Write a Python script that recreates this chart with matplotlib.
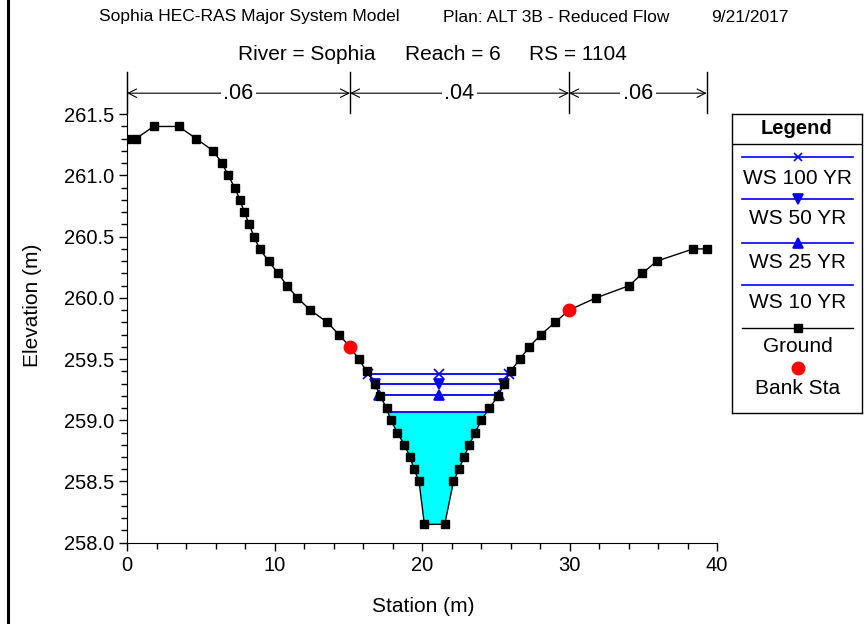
import numpy as np
import matplotlib
matplotlib.use('Agg')
from matplotlib import pyplot as plt
from matplotlib.lines import Line2D
from matplotlib.ticker import MultipleLocator

plt.rcParams['font.family'] = ['Liberation Sans', 'DejaVu Sans']

# ground profile
ground_x = [0.0, 0.6, 1.8, 3.5, 4.7, 5.85, 6.44, 6.87, 7.3, 7.66, 7.95, 8.29,
            8.6, 9.0, 9.6, 10.24, 10.85, 11.55, 12.43, 13.58, 14.37, 15.12,
            15.7, 16.25, 16.8, 17.15, 17.6, 17.88, 18.33, 18.8, 19.19, 19.46,
            19.8, 20.16, 21.54, 22.13, 22.5, 22.85, 23.2, 23.6, 24.02, 24.56,
            25.17, 25.56, 26.0, 26.64, 27.27, 28.07, 29.02, 29.97, 31.8, 34.05,
            34.94, 35.91, 38.39, 39.3]
ground_y = [261.3, 261.3, 261.4, 261.4, 261.3, 261.2, 261.1, 261.0, 260.9,
            260.8, 260.7, 260.6, 260.5, 260.4, 260.3, 260.2, 260.1, 260.0,
            259.9, 259.8, 259.7, 259.6, 259.5, 259.4, 259.3, 259.2, 259.1,
            259.0, 258.9, 258.8, 258.7, 258.6, 258.5, 258.15, 258.15, 258.5,
            258.6, 258.7, 258.8, 258.9, 259.0, 259.1, 259.2, 259.3, 259.4,
            259.5, 259.6, 259.7, 259.8, 259.9, 260.0, 260.1, 260.2, 260.3,
            260.4, 260.4]

bank_x = [15.12, 29.97]
bank_y = [259.6, 259.9]

ws_names = ['WS 100 YR', 'WS 50 YR', 'WS 25 YR', 'WS 10 YR']
ws_elev = [259.38, 259.30, 259.21, 259.07]
ws_markers = ['x', 'v', '^', None]

n_values = ['.06', '.04', '.06']
n_stations = [0.0, bank_x[0], bank_x[1], ground_x[-1]]

title_top = ['Sophia HEC-RAS Major System Model', 'Plan: ALT 3B - Reduced Flow',
             '9/21/2017']
title_sub = ['River = Sophia', 'Reach = 6', 'RS = 1104']

gx = np.array(ground_x)
gy = np.array(ground_y)


def ws_limits(level):
    # where the water surface meets the ground on each side of the channel
    low = np.argmin(gy)
    i = low
    while gy[i - 1] < level:
        i -= 1
    xl = np.interp(level, [gy[i], gy[i - 1]], [gx[i], gx[i - 1]])
    j = low + 1
    while gy[j + 1] < level:
        j += 1
    xr = np.interp(level, [gy[j], gy[j + 1]], [gx[j], gx[j + 1]])
    return xl, xr


W, H = 864, 624
fig = plt.figure(figsize=(W / 100, H / 100), dpi=100)
ax = fig.add_axes([127 / W, (H - 542.7) / H, 590 / W, 470.7 / H])
ax.set_xlim(0, 40)
ax.set_ylim(258.0, 261.845)

blue = '#0000ff'
ax.fill_between(gx, gy, ws_elev[-1], where=gy < ws_elev[-1], interpolate=True,
                color='#00ffff', lw=0, zorder=1)
for name, lev, mk in zip(ws_names, ws_elev, ws_markers):
    xl, xr = ws_limits(lev)
    xs = [xl, (xl + xr) / 2, xr]
    ax.plot(xs, [lev] * 3, color=blue, lw=1.3, marker=mk, ms=7 if mk else 0,
            mew=1.2, zorder=2)

ax.plot(gx, gy, color='black', lw=1, marker='s', ms=5.8, zorder=3)
ax.plot(bank_x, bank_y, 'o', color='#ff0000', ms=9, zorder=4)

# manning's n bands above the plot
y_top, y_bot, y_arr = 261.845, 261.51, 261.672
for xs in n_stations:
    ax.plot([xs, xs], [y_bot, y_top], color='black', lw=1, clip_on=False)
for k, n in enumerate(n_values):
    x0, x1 = n_stations[k], n_stations[k + 1]
    ax.annotate('', xy=(x1, y_arr), xytext=(x0, y_arr),
                arrowprops=dict(arrowstyle='<->', lw=0.8, shrinkA=0, shrinkB=0,
                                mutation_scale=15), annotation_clip=False)
    ax.text((x0 + x1) / 2, y_arr, n, ha='center', va='center', fontsize=15.5,
            bbox=dict(fc='white', ec='none', pad=2))

ax.spines['top'].set_visible(False)
ax.spines['right'].set_visible(False)
ax.set_yticks(np.arange(258.0, 261.51, 0.5))
ax.set_yticks(np.arange(258.0, 261.51, 0.1), minor=True)
ax.xaxis.set_major_locator(MultipleLocator(10))
ax.xaxis.set_minor_locator(MultipleLocator(2))
ax.yaxis.set_major_formatter(plt.FormatStrFormatter('%.1f'))
ax.tick_params(which='major', length=6, width=1, labelsize=14.5)
ax.tick_params(which='minor', length=4, width=1)

fig.text(33 / W, 1 - 305 / H, 'Elevation (m)', rotation=90, ha='center',
         va='center', fontsize=15)
fig.text(423 / W, 1 - 606 / H, 'Station (m)', ha='center', va='center',
         fontsize=15)

for txt, x0 in zip(title_top, [99, 443, 711]):
    fig.text(x0 / W, 1 - 17 / H, txt, ha='left', va='center', fontsize=12.5)
for txt, x0 in zip(title_sub, [238, 405, 529]):
    fig.text(x0 / W, 1 - 55 / H, txt, ha='left', va='center', fontsize=15)

fig.add_artist(Line2D([8 / W, 8 / W], [0, 1], color='black', lw=2.2,
                      transform=fig.transFigure))

# legend box
lax = fig.add_axes([732 / W, (H - 413) / H, 130 / W, 299 / H])
lax.set_xlim(0, 130)
lax.set_ylim(299, 0)
lax.set_xticks([])
lax.set_yticks([])
for s in lax.spines.values():
    s.set_linewidth(1)
lax.text(65, 14, 'Legend', ha='center', va='center', fontsize=14.5,
         fontweight='bold')
lax.plot([0, 130], [30, 30], color='black', lw=1)
line_rows = [43, 85, 129, 171, 214]
label_rows = [64, 105, 149, 189, 233]
for row, lrow, name, mk in zip(line_rows, label_rows, ws_names, ws_markers):
    lax.plot([10, 121], [row, row], color=blue, lw=1.2)
    if mk:
        lax.plot([65.5], [row], marker=mk, color=blue, ms=7 if mk != 'x' else 6,
                 mew=1.2)
    lax.text(65.5, lrow, name, ha='center', va='center', fontsize=15)
lax.plot([10, 121], [214, 214], color='black', lw=1)
lax.plot([65.5], [214], marker='s', color='black', ms=5.8)
lax.text(65.5, 233, 'Ground', ha='center', va='center', fontsize=15)
lax.plot([65.5], [254], 'o', color='#ff0000', ms=9)
lax.text(65.5, 274, 'Bank Sta', ha='center', va='center', fontsize=15)

fig.savefig('out.png', dpi=100)
